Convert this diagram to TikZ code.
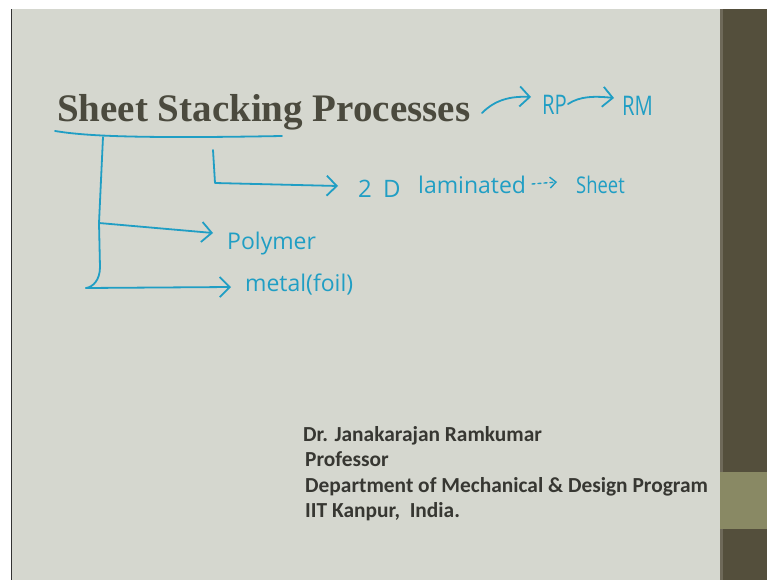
\documentclass[tikz,border=0pt]{standalone}
\usepackage{fontspec}
\usetikzlibrary{arrows.meta}
\newfontfamily\titlefont{Liberation Serif}
\newfontfamily\authfont{Carlito}
\newfontfamily\handfont{Open Sans}
\definecolor{slidebg}{RGB}{213,215,207}
\definecolor{stripdark}{RGB}{84,79,60}
\definecolor{stripband}{RGB}{137,137,100}
\definecolor{titlecol}{RGB}{75,74,62}
\definecolor{authcol}{RGB}{55,55,50}
\definecolor{ink}{RGB}{32,158,196}
\begin{document}
\begin{tikzpicture}[x=1pt,y=-1pt,
  pen/.style={draw=ink, line width=1.8pt, line cap=round, line join=round},
  tipped/.style={pen, -{Straight Barb[length=10pt,width=20pt]}},
  hand/.style={text=ink, font=\handfont\fontsize{23}{24}\selectfont, inner sep=0pt, anchor=base west},
  auth/.style={text=authcol, font=\authfont\bfseries\fontsize{21.4}{22}\selectfont, anchor=base west, inner sep=0pt}]
\useasboundingbox (0,0) rectangle (767,580);
\fill[white] (0,0) rectangle (767,580);
\fill[slidebg] (12,9) rectangle (767,580);
\fill[black!80] (10.5,9) rectangle (12,580);
\fill[stripdark] (720,9) rectangle (767,580);
\fill[stripdark!85!white] (720,9) rectangle (723,580);
\fill[stripband] (720,472) rectangle (767,529);

\node[anchor=base west, inner sep=0pt, text=titlecol, font=\titlefont\bfseries\fontsize{39}{40}\selectfont] (title) at (57,122) {Sheet Stacking Processes};

% handwritten labels
\node[hand] (rp) at (542,115) {\fontsize{27}{28}\selectfont\scalebox{0.75}[1]{RP}};
\node[hand] (rm) at (622,116) {\fontsize{27}{28}\selectfont\scalebox{0.75}[1]{RM}};
\node[hand] (twod) at (358,197) {\fontsize{24}{25}\selectfont 2\hspace{5pt} D};
\node[hand] (lam) at (418,193) {laminated};
\node[hand] (sheet) at (576,193) {\scalebox{0.8}[1]{Sheet}};
\node[hand] (poly) at (227,249) {Polymer};
\node[hand] (metal) at (245,291) {metal(foil)};

% author block
\node[auth] (name) at (303,441) {Dr. Janakarajan Ramkumar};
\node[auth] (prof) at (305,466) {Professor};
\node[auth] (dept) at (305,492) {Department of Mechanical \& Design Program};
\node[auth] (inst) at (305,517) {IIT Kanpur,\ \ India.};

% coordinates of the strokes
\coordinate (ulA) at (55,131);
\coordinate (ulB) at (282,136);
\coordinate (tTop) at (103,137);
\coordinate (tMid) at (99,223);
\coordinate (tLow) at (100,267);
\coordinate (tBot) at (86,288);
\coordinate (polyTip) at (213,233);
\coordinate (metalTip) at (231,287);
\coordinate (bTop) at (213,150);
\coordinate (bCorner) at (215,183);
\coordinate (bTip) at (338,186);
\coordinate (rpStart) at (482,113);
\coordinate (rpTip) at (531,97);
\coordinate (rmStart) at (568,104);
\coordinate (rmTip) at (614,98);
\coordinate (dStart) at (532,184);
\coordinate (dTip) at (557,182);

\draw[pen] (ulA) .. controls (80,135) and (120,139) .. (ulB);
\draw[pen] (tTop) -- (tMid) -- (tLow) .. controls (100,280) and (93,287) .. (tBot);
\draw[tipped] (tMid) -- (polyTip);
\draw[tipped] (tBot) -- (metalTip);
\draw[tipped] (bTop) -- (bCorner) -- (bTip);
\draw[tipped] (rpStart) .. controls (495,100) and (510,96) .. (rpTip);
\draw[tipped] (rmStart) .. controls (580,96) and (595,96) .. (rmTip);
\draw[pen, line width=1.4pt, dash pattern=on 3pt off 3pt, -{Straight Barb[length=6pt,width=11pt]}] (dStart) -- (dTip);
\end{tikzpicture}
\end{document}
